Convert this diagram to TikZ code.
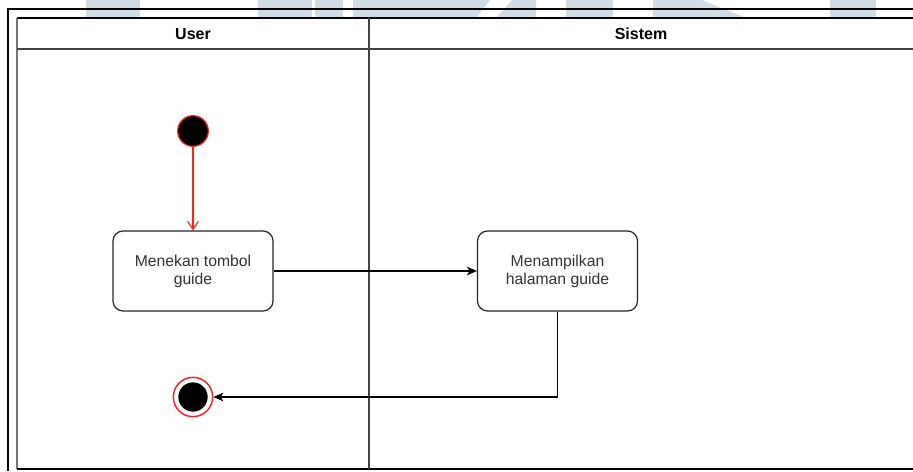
\documentclass[tikz,border=0pt]{standalone}
\usepackage{fontspec}
\setmainfont{Liberation Sans}
\usetikzlibrary{arrows.meta}
\definecolor{wmark}{HTML}{D0DCE6}
\definecolor{lanegray}{HTML}{444444}
\definecolor{boxtext}{HTML}{333333}
\definecolor{startred}{HTML}{FF2020}
\tikzset{
  lanehead/.style={font=\bfseries\fontsize{12}{14}\selectfont, inner sep=0pt},
  actbox/.style={draw=black!85, line width=0.9pt, rounded corners=7.5pt, fill=white,
    minimum width=120pt, minimum height=60pt, align=center, text=boxtext,
    font=\fontsize{11.8}{13.6}\selectfont},
  startdot/.style={circle, draw=startred, line width=0.9pt, fill=black, minimum size=23pt, inner sep=0pt},
  endring/.style={circle, draw=startred, line width=1.1pt, fill=white, minimum size=29.5pt, inner sep=0pt},
  enddot/.style={circle, fill=black, minimum size=22pt, inner sep=0pt},
  flow/.style={line width=0.9pt, -{Stealth[length=7.5pt,width=6.5pt,inset=2pt]}},
  startflow/.style={line width=0.8pt, draw=startred, -{Straight Barb[length=6pt,width=8pt]}},
  poolline/.style={line width=1.5pt},
}
\begin{document}
\begin{tikzpicture}[x=0.75pt, y=-0.75pt]
  \useasboundingbox (0,0) rectangle (913,471);
  \fill[white] (0,0) rectangle (913,471);

  % faint letters along the top edge
  \fill[wmark] (86,0) rectangle (140,18);
  \fill[wmark] (258,0) rectangle (312,18);
  \fill[wmark] (315,0) rectangle (343,18);
  \fill[wmark] (353,0) -- (490,0) -- (476,18) -- (353,18) -- cycle;
  \fill[wmark] (512,0) -- (536,0) -- (536,18) -- (496,18) -- cycle;
  \fill[wmark] (566,0) rectangle (613,18);
  \fill[wmark] (653,0) -- (702,0) -- (746,18) -- (653,18) -- cycle;
  \fill[wmark] (830,0) rectangle (876,18);

  % outer frame
  \draw[line width=0.8pt] (913,9) -- (8,9) -- (8,471);

  % pool with two lanes
  \fill[white] (17,18) rectangle (913,469);
  \draw[poolline] (913,18) -- (17,18);
  \draw[poolline, draw=black!55, line width=2pt] (17,18) -- (17,469);
  \draw[poolline] (17,469) -- (913,469);
  \draw[poolline, draw=lanegray] (17,49) -- (913,49);
  \draw[poolline, draw=lanegray, line width=1.8pt] (369,18) -- (369,469);

  \node[lanehead] (userhead) at (193,34) {User};
  \node[lanehead] (sistemhead) at (641,34) {Sistem};

  % activity nodes
  \node[startdot] (start) at (193,131) {};
  \node[actbox] (tekan) at (193,271) {Menekan tombol\\guide};
  \node[actbox] (tampil) at (557.5,271) {Menampilkan\\halaman guide};
  \node[endring] (end) at (193,397) {};
  \node[enddot] (endcore) at (193,397) {};

  % transitions
  \draw[startflow] (start) -- (tekan);
  \draw[flow] (tekan) -- (tampil);
  \draw[flow] (tampil.south) |- (end.east);
\end{tikzpicture}
\end{document}
